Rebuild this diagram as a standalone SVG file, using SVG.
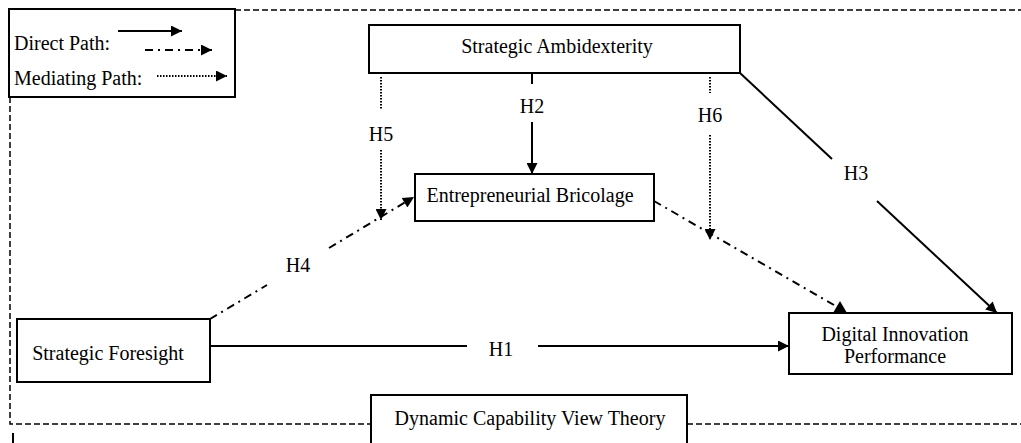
<svg xmlns="http://www.w3.org/2000/svg" width="1021" height="443" viewBox="0 0 1021 443">
<style>
text{font-family:"Liberation Serif","Times New Roman",serif;font-size:20px;fill:#000}
.box{fill:#fff;stroke:#000;stroke-width:2}
.border{fill:none;stroke:#000;stroke-width:1.5;stroke-dasharray:6 3}
.solid{fill:none;stroke:#000;stroke-width:2}
.dashdot{fill:none;stroke:#000;stroke-width:2;stroke-dasharray:8 5 2 5}
.dot{fill:none;stroke:#000;stroke-width:2;stroke-dasharray:1.5 1.5}
.head{fill:#000}
</style>
<defs>
<marker id="arr" viewBox="0 0 10 10" refX="10" refY="5" markerWidth="14" markerHeight="11" markerUnits="userSpaceOnUse" orient="auto">
<path d="M0,0 L10,5 L0,10 z" fill="#000"/>
</marker>
</defs>
<g id="frame">
<path class="border" d="M235,10 H1021"/>
<path class="border" d="M10,97 V424 H371"/>
<path class="border" d="M687,424 H1021"/>
<path class="solid" d="M13,433 V443" stroke-width="1.5"/>
</g>
<g id="legend">
<rect class="box" x="9" y="9" width="226" height="88"/>
<text x="14" y="50">Direct Path:</text>
<text x="14" y="85">Mediating Path:</text>
<path class="solid" d="M118,31 H182" marker-end="url(#arr)"/>
<path class="dashdot" d="M145,50 H212" marker-end="url(#arr)" stroke-dasharray="7 4 2 4"/>
<path class="dot" d="M157,76 H227" marker-end="url(#arr)"/>
</g>
<g id="connectors">
<path class="solid" d="M532,73 V84"/>
<path class="solid" d="M532,122 V174" marker-end="url(#arr)"/>
<text x="532" y="113" text-anchor="middle">H2</text>
<path class="dot" d="M381,77 V109"/>
<path class="dot" d="M381,150 V220" marker-end="url(#arr)"/>
<text x="381" y="141" text-anchor="middle">H5</text>
<path class="dot" d="M710,77 V93"/>
<path class="dot" d="M710,135 V240" marker-end="url(#arr)"/>
<text x="710" y="122" text-anchor="middle">H6</text>
<path class="solid" d="M740,73 L832,159"/>
<path class="solid" d="M877,201 L997,313" marker-end="url(#arr)"/>
<text x="856" y="180" text-anchor="middle">H3</text>
<path class="dashdot" d="M210,319 L267,285"/>
<path class="dashdot" d="M329,248 L414,197" marker-end="url(#arr)"/>
<text x="298" y="272" text-anchor="middle">H4</text>
<path class="solid" d="M210,346 H467"/>
<path class="solid" d="M538,346 H789" marker-end="url(#arr)"/>
<text x="501" y="356" text-anchor="middle">H1</text>
<path class="dashdot" d="M654,201 L834,305"/>
<polygon class="head" points="840,301 833,313 847,313"/>
</g>
<g id="strategic-ambidexterity">
<rect class="box" x="369" y="25" width="371" height="48"/>
<text x="557" y="53" text-anchor="middle">Strategic Ambidexterity</text>
</g>
<g id="entrepreneurial-bricolage">
<rect class="box" x="415" y="174" width="239" height="47"/>
<text x="530" y="202" text-anchor="middle">Entrepreneurial Bricolage</text>
</g>
<g id="strategic-foresight">
<rect class="box" x="17" y="319" width="193" height="63"/>
<text x="108" y="360" text-anchor="middle">Strategic Foresight</text>
</g>
<g id="digital-innovation-performance">
<rect class="box" x="789" y="313" width="223" height="61"/>
<text x="895" y="341" text-anchor="middle">Digital Innovation</text>
<text x="895" y="363" text-anchor="middle">Performance</text>
</g>
<g id="dynamic-capability">
<rect class="box" x="371" y="395" width="316" height="60"/>
<text x="530" y="425" text-anchor="middle">Dynamic Capability View Theory</text>
</g>
</svg>
